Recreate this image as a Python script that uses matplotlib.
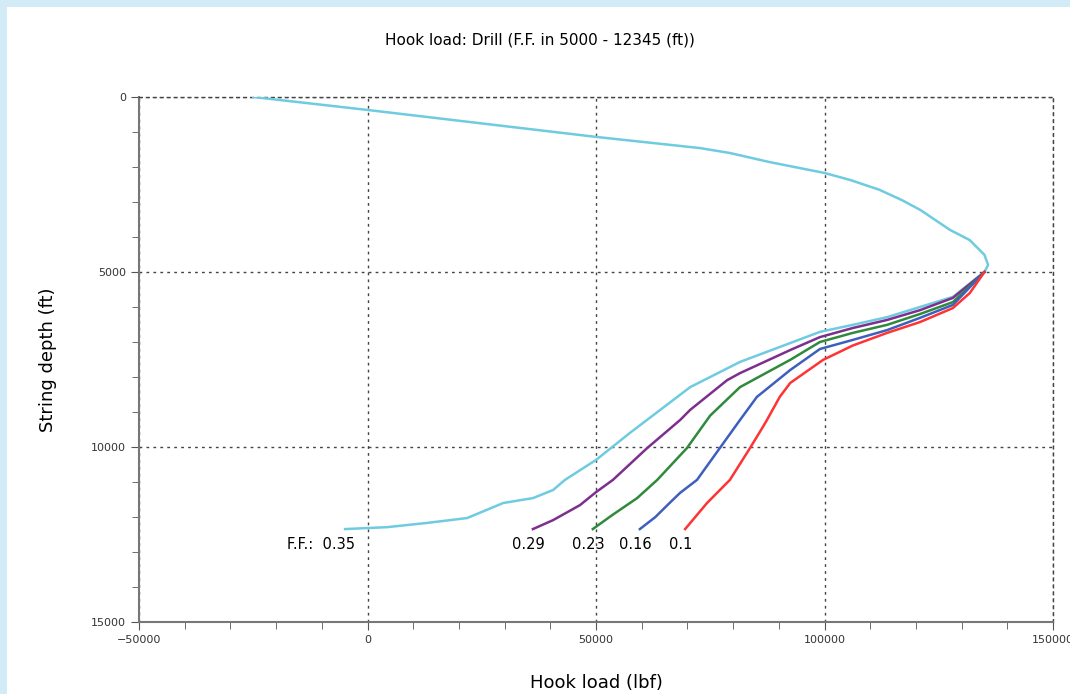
import matplotlib.pyplot as plt
from matplotlib.patches import Rectangle
from matplotlib.ticker import MultipleLocator

# Hook load (lbf) vs string depth (ft) for each friction factor
ff_labels = ['0.35', '0.29', '0.23', '0.16', '0.1']
colors = ['#6fcbe0', '#7e2f8e', '#2f8a3c', '#3f5fbf', '#ff3333']

load_035 = [-25000, 0, 50000, 72800, 79300, 88000, 100000, 105600, 112000,
            117000, 121000, 127500, 131800, 135000, 135800, 135000, 128100, 120900,
            113700, 106200, 99000, 92500, 81500, 70600, 57400, 50000, 43200,
            40600, 36200, 29700, 21800, 13000, 4300, -4900]
depth_035 = [0, 370, 1140, 1460, 1600, 1860, 2170, 2370, 2650,
             2950, 3230, 3800, 4090, 4510, 4800, 5000, 5710, 6000,
             6290, 6510, 6710, 7030, 7570, 8290, 9600, 10370, 10940,
             11230, 11460, 11600, 12030, 12170, 12290, 12345]

load_029 = [135000, 128100, 120900, 113700, 106200, 99000, 92500, 81500, 78700,
            70600, 68400, 61200, 53700, 50000, 46500, 40600, 36200]
depth_029 = [5000, 5740, 6090, 6370, 6600, 6860, 7230, 7890, 8090,
             8940, 9230, 10030, 10940, 11290, 11660, 12090, 12345]

load_023 = [135000, 128100, 120900, 113700, 106200, 99000, 92500, 81500, 75000,
            69900, 63400, 59000, 53500, 49300]
depth_023 = [5000, 5860, 6200, 6510, 6740, 7000, 7510, 8290, 9100,
             10030, 10940, 11460, 11950, 12345]

load_016 = [135000, 128100, 120900, 113700, 106200, 99000, 92500, 85200, 81500,
            77100, 72100, 68400, 66100, 63000, 59600]
depth_016 = [5000, 5940, 6310, 6660, 6940, 7200, 7800, 8570, 9230,
             10030, 10940, 11310, 11600, 12000, 12345]

load_010 = [135000, 131800, 128100, 120900, 113700, 106200, 99700, 92500, 90200,
            87400, 86500, 83700, 79300, 77100, 74300, 69500]
depth_010 = [5000, 5600, 6030, 6430, 6740, 7100, 7510, 8170, 8570,
             9230, 9430, 10030, 10940, 11230, 11600, 12345]

loads = [load_035, load_029, load_023, load_016, load_010]
depths = [depth_035, depth_029, depth_023, depth_016, depth_010]

fig = plt.figure(figsize=(10.7, 6.94), dpi=100, facecolor='#d3ebf6')
fig.patches.append(Rectangle((7 / 1070, 0), 1, 1 - 7 / 694, transform=fig.transFigure,
                             facecolor='white', edgecolor='none', zorder=-10))
ax = fig.add_axes([139 / 1070, 1 - 622 / 694, 914 / 1070, 525 / 694])
ax.set_facecolor('white')

for x, d, c in zip(loads, depths, colors):
    ax.plot(x, d, color=c, lw=1.8, zorder=3)

# friction factor labels under the line ends
label_y = 12780
ax.text(-2700, label_y, 'F.F.:  0.35', ha='right', va='center', fontsize=10.5)
for lab, x in zip(ff_labels[1:], loads[1:]):
    ax.text(x[-1] - 1000, label_y, lab, ha='center', va='center', fontsize=10.5)

ax.set_xlim(-50000, 150000)
ax.set_ylim(15000, 0)
ax.xaxis.set_major_locator(MultipleLocator(50000))
ax.xaxis.set_minor_locator(MultipleLocator(10000))
ax.yaxis.set_major_locator(MultipleLocator(5000))
ax.yaxis.set_minor_locator(MultipleLocator(1000))
ax.grid(True, which='major', linestyle=(0, (2, 3)), color='#444444', lw=1)

for s in ['left', 'bottom']:
    ax.spines[s].set_color('#777777')
    ax.spines[s].set_linewidth(1.5)
for s in ['top', 'right']:
    ax.spines[s].set_linestyle((0, (2, 3)))
    ax.spines[s].set_color('#444444')
    ax.spines[s].set_linewidth(1)

ax.tick_params(which='both', colors='#555555', labelcolor='#333333', labelsize=8,
               top=False, right=False)
ax.tick_params(which='major', length=6)
ax.tick_params(which='minor', length=5)

ax.set_xlabel('Hook load (lbf)', fontsize=13, labelpad=21)
ax.set_ylabel('String depth (ft)', fontsize=13, labelpad=24)
fig.text(540 / 1070, 1 - 40 / 694, 'Hook load: Drill (F.F. in 5000 - 12345 (ft))',
         ha='center', va='center', fontsize=11)

fig.savefig('out.png', dpi=100, facecolor=fig.get_facecolor())
